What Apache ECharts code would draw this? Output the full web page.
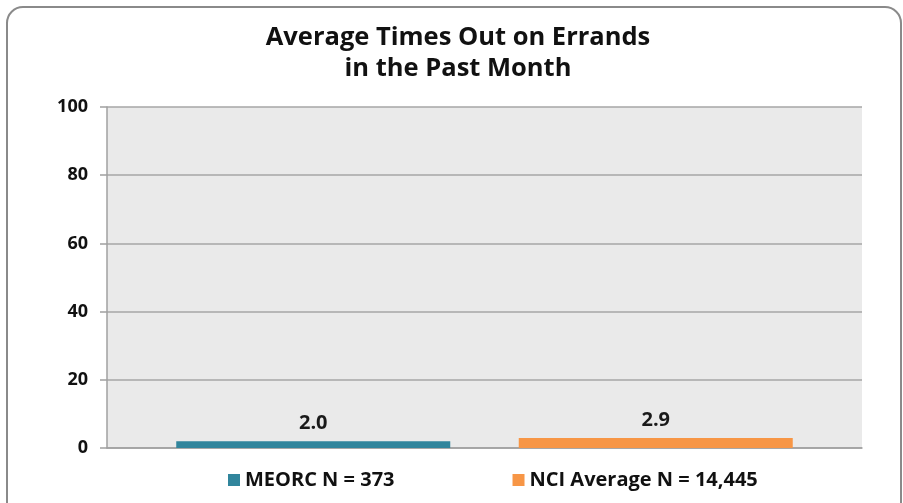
<!DOCTYPE html>
<html>
<head>
<meta charset="utf-8">
<script src="https://cdn.jsdelivr.net/npm/echarts@6/dist/echarts.min.js"></script>
<style>
  html, body { margin: 0; padding: 0; background: #fff; }
  #chart { width: 903px; height: 503px; }
</style>
</head>
<body>
<div id="chart"></div>
<script>
// ── Data ──
const categories = ['Errands'];
const seriesNames = ['MEORC N = 373', 'NCI Average N = 14,445'];
const meorcValues = [2.0];
const nciValues = [2.9];
const seriesColors = ['#31859C', '#F79646'];

const FONT = '"Open Sans", "Liberation Sans", sans-serif';

const chart = echarts.init(document.getElementById('chart'));

const labelStyle = {
  show: true,
  position: 'top',
  distance: 8,
  formatter: p => p.value.toFixed(1),
  fontFamily: FONT,
  fontWeight: 'bold',
  fontSize: 20,
  color: '#1a1a1a',
};

chart.setOption({
  backgroundColor: '#fff',
  animation: false,
  graphic: [{
    type: 'rect',
    z: -10,
    shape: { x: 7, y: 7, width: 894, height: 520, r: 16 },
    style: { fill: 'none', stroke: '#8a8a8a', lineWidth: 2 },
  }],
  title: {
    text: 'Average Times Out on Errands\nin the Past Month',
    left: 453,
    textAlign: 'center',
    top: 17,
    textStyle: {
      fontFamily: FONT,
      fontWeight: 'bold',
      fontSize: 25.5,
      lineHeight: 31,
      color: '#111',
    },
  },
  legend: {
    bottom: 8,
    left: 223,
    itemWidth: 12,
    itemHeight: 12,
    itemGap: 118,
    icon: 'rect',
    textStyle: { fontFamily: FONT, fontWeight: 'bold', fontSize: 20, color: '#111' },
    data: seriesNames,
  },
  grid: {
    left: 107, right: 41, top: 107, bottom: 55,
    show: true,
    backgroundColor: '#EAEAEA',
    borderWidth: 0,
  },
  xAxis: {
    type: 'category',
    data: categories,
    axisLine: { show: true, lineStyle: { color: '#a0a0a0', width: 1.5 } },
    axisTick: { show: false },
    axisLabel: { show: false },
  },
  yAxis: {
    type: 'value',
    min: 0, max: 100, interval: 20,
    axisLine: { show: true, lineStyle: { color: '#a0a0a0', width: 1.5 } },
    axisTick: { show: true, length: 7, lineStyle: { color: '#a0a0a0', width: 1.5 } },
    splitLine: { lineStyle: { color: '#a6a6a6', width: 1.5 } },
    axisLabel: {
      margin: 19,
      fontFamily: FONT,
      fontWeight: 'bold',
      fontSize: 18,
      color: '#111',
    },
  },
  series: [
    {
      name: seriesNames[0],
      type: 'bar',
      data: meorcValues,
      barWidth: 274,
      barGap: '25%',
      itemStyle: { color: seriesColors[0] },
      label: labelStyle,
    },
    {
      name: seriesNames[1],
      type: 'bar',
      data: nciValues,
      barWidth: 274,
      barGap: '25%',
      itemStyle: { color: seriesColors[1] },
      label: labelStyle,
    },
  ],
});
</script>
</body>
</html>
